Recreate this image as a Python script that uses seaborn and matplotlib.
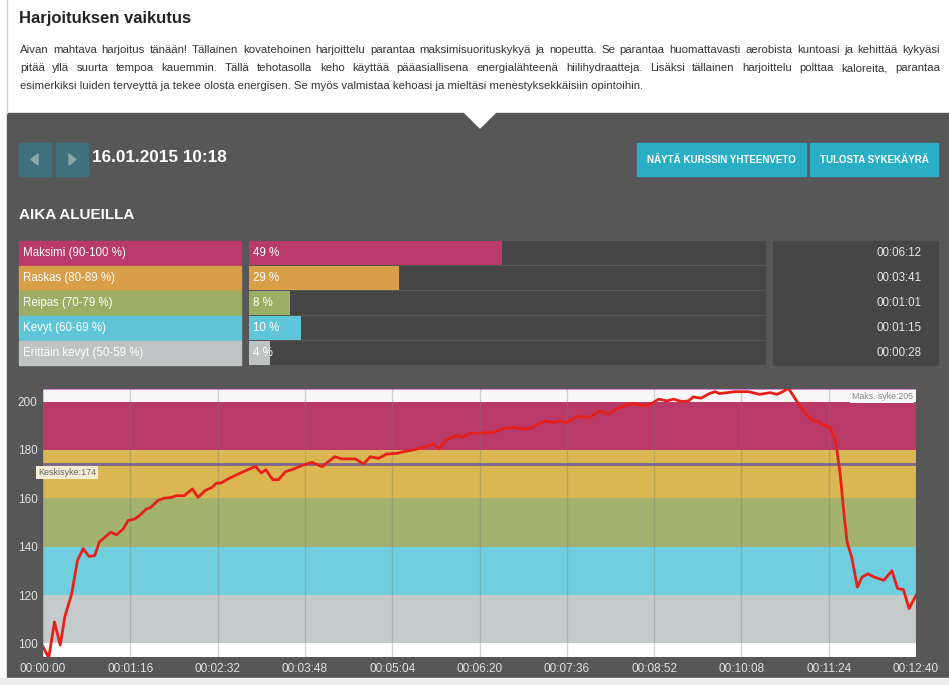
import numpy as np
import pandas as pd
import seaborn as sns
import matplotlib.pyplot as plt
from matplotlib.patches import Rectangle, Polygon
from matplotlib.ticker import FuncFormatter, MultipleLocator

# heart rate samples (seconds from start, bpm)
hr_sec = [0, 5, 10, 15, 19, 25, 30, 35, 40, 45, 49, 54, 59, 64, 70, 74, 80, 84, 90, 94,
          100, 105, 112, 116, 123, 130, 135, 141, 147, 151, 155, 161, 172, 185, 190, 194,
          200, 205, 211, 218, 225, 234, 243, 254, 260, 272, 279, 285, 292, 299, 308, 315,
          322, 331, 340, 345, 351, 360, 365, 372, 382, 392, 401, 411, 417, 424, 431, 438,
          444, 450, 456, 462, 467, 475, 485, 492, 499, 508, 515, 523, 530, 536, 543, 549,
          556, 562, 566, 573, 580, 585, 589, 602, 614, 624, 633, 639, 644, 649, 656, 663,
          670, 675, 679, 685, 690, 694, 697, 700, 704, 709, 713, 718, 724, 732, 739, 744,
          749, 754, 760]
hr_bpm = [98.6, 94.1, 108.9, 99.3, 111, 120.6, 134.3, 139.2, 136, 136.3, 141.9, 144, 146,
          144.9, 147.4, 150.8, 151.5, 152.9, 155.6, 156.3, 159.1, 160, 160.4, 161.1, 161.1,
          163.9, 160.4, 163.2, 164.5, 166.3, 166.3, 168, 170.5, 173.2, 170.5, 171.8, 167.7,
          167.7, 171, 172.1, 173.5, 174.9, 173.1, 177.2, 176.3, 176.3, 174.2, 177.2, 176.5,
          178.3, 178.6, 179.4, 180, 181, 182.4, 180.4, 184.2, 186.1, 185.2, 186.8, 187,
          187.2, 188.9, 189.3, 188.6, 188.9, 190.7, 192, 191.3, 192, 191.3, 193, 194.1,
          193.2, 196.2, 194.8, 196.9, 198.6, 199.2, 198.2, 199.2, 201, 200.3, 201, 200,
          200.3, 201.9, 201.4, 203.3, 204.1, 203.3, 204.1, 204.1, 203, 203.7, 203, 204.1,
          205.5, 200.3, 195.5, 192, 191.8, 190.3, 189.3, 183.8, 170, 154.9, 141.9, 135.7,
          123.3, 127.4, 128.8, 127.4, 126.1, 130, 122.7, 122.3, 114.4, 119.9]

zone_names = ['Maksimi (90-100 %)', 'Raskas (80-89 %)', 'Reipas (70-79 %)',
              'Kevyt (60-69 %)', 'Erittäin kevyt (50-59 %)']
zone_pct = [49, 29, 8, 10, 4]
zone_time = ['00:06:12', '00:03:41', '00:01:01', '00:01:15', '00:00:28']
zone_colors = ['#b8396a', '#d99f48', '#9cae63', '#5ec6d8', '#bfc3c3']
band_lo = [180, 160, 140, 120, 100]
band_hi = [200, 180, 160, 140, 120]
band_colors = ['#b93a69', '#dab752', '#a3b26d', '#6fcfde', '#c5cbcb']
avg_hr = 174
max_hr = 205

title = 'Harjoituksen vaikutus'
para = ['Aivan mahtava harjoitus tänään! Tällainen kovatehoinen harjoittelu parantaa maksimisuorituskykyä ja nopeutta. Se parantaa huomattavasti aerobista kuntoasi ja kehittää kykyäsi',
        'pitää yllä suurta tempoa kauemmin. Tällä tehotasolla keho käyttää pääasiallisena energialähteenä hiilihydraatteja. Lisäksi tällainen harjoittelu polttaa kaloreita, parantaa',
        'esimerkiksi luiden terveyttä ja tekee olosta energisen. Se myös valmistaa kehoasi ja mieltäsi menestyksekkäisiin opintoihin.']
date_txt = '16.01.2015 10:18'

W, H = 949, 685
plt.rcParams['font.family'] = ['Liberation Sans', 'DejaVu Sans']

fig = plt.figure(figsize=(W / 100, H / 100), dpi=100)


def box(x0, y0, x1, y1):
    return [x0 / W, 1 - y1 / H, (x1 - x0) / W, (y1 - y0) / H]


bg = fig.add_axes([0, 0, 1, 1])
bg.set_xlim(0, W)
bg.set_ylim(H, 0)
bg.axis('off')

dark = '#575757'
track = '#464646'
bg.add_patch(Rectangle((0, 0), W, H, color='white'))
bg.plot([7, 7], [0, 113], color='#d0d0d0', lw=1)
bg.add_patch(Rectangle((7, 113), W - 7, 565, color=dark))
bg.add_patch(Polygon([(464, 112), (496, 112), (480, 128)], color='white'))
bg.add_patch(Rectangle((0, 678), W, 7, color='#ececec'))

bg.text(19, 18, title, fontsize=12, fontweight='bold', color='#222222', va='center')

# justified paragraph
fig.canvas.draw()
rend = fig.canvas.get_renderer()
for i, line in enumerate(para):
    y = 53 + 18 * i
    words = line.split()
    if i == len(para) - 1:
        bg.text(20, y, line, fontsize=8.2, color='#333333', va='baseline')
        continue
    objs = [bg.text(0, y, w, fontsize=8.2, color='#333333', va='baseline')
            for w in words]
    widths = [o.get_window_extent(rend).width for o in objs]
    gap = (940 - 20 - sum(widths)) / (len(words) - 1)
    x = 20
    for o, w in zip(objs, widths):
        o.set_x(x)
        x += w + gap

# navigation + header
for x0 in (19, 56):
    bg.add_patch(Rectangle((x0, 143), 32, 33, color='#3e717b'))
bg.add_patch(Polygon([(38, 154), (38, 165), (31, 159.5)], color='#8fa5aa'))
bg.add_patch(Polygon([(69, 154), (69, 165), (76, 159.5)], color='#8fa5aa'))
bg.text(92, 157, date_txt, fontsize=12.3, fontweight='bold', color='white', va='center')

for (x0, x1), lab in zip([(637, 806), (810, 938)],
                         ['NÄYTÄ KURSSIN YHTEENVETO', 'TULOSTA SYKEKÄYRÄ']):
    bg.add_patch(Rectangle((x0, 143), x1 - x0, 33, color='#2aaec5'))
    bg.text((x0 + x1) / 2, 160, lab, fontsize=7, fontweight='bold', color='white',
            ha='center', va='center')

bg.text(19, 215, 'AIKA ALUEILLA', fontsize=11, fontweight='bold', color='white',
        va='center')

# zone rows: label boxes and time boxes
for i, (name, col, t) in enumerate(zip(zone_names, zone_colors, zone_time)):
    y0 = 241 + 25 * i
    bg.add_patch(Rectangle((19, y0), 222, 24, color=col))
    bg.text(23, y0 + 12, name, fontsize=8.3, color='white', va='center')
    bg.add_patch(Rectangle((773, y0), 165, 24, color=track))
    bg.text(922, y0 + 12, t, fontsize=8.3, color='#e6e6e6', va='center', ha='right')

# percentage bars
zdf = pd.DataFrame({'zone': zone_names, 'pct': zone_pct, 'full': [100] * 5})
axz = fig.add_axes(box(249, 241, 766, 366))
sns.barplot(data=zdf, x='full', y='zone', color=track, width=0.96, saturation=1,
            ax=axz)
sns.barplot(data=zdf, x='pct', y='zone', hue='zone', palette=zone_colors, width=0.96,
            saturation=1, legend=False, ax=axz)
axz.set_xlim(0, 100)
axz.axis('off')
for i, p in enumerate(zone_pct):
    axz.text(0.8, i, f'{p} %', fontsize=8.3, color='white', va='center')

# heart rate chart
ax = fig.add_axes(box(43, 389, 916, 657))
ax.set_facecolor('#f7f7f7')
for lo, hi, c in zip(band_lo, band_hi, band_colors):
    ax.axhspan(lo, hi, color=c, lw=0, zorder=0)
ax.axhspan(94, 100, color='white', lw=0, zorder=0)
for t in range(0, 761, 76):
    ax.axvline(t, color='#777777', alpha=0.3, lw=1, zorder=1)
ax.axhline(avg_hr, color='#7a6790', lw=2, zorder=2)
ax.axhline(max_hr, color='#cf6ccb', lw=1.2, zorder=2)

hr = pd.DataFrame({'sec': hr_sec, 'bpm': hr_bpm})
sns.lineplot(data=hr, x='sec', y='bpm', color='#e8201a', lw=2, ax=ax, zorder=3)

ax.set_xlim(0, 760)
ax.xaxis.set_major_locator(MultipleLocator(76))
ax.yaxis.set_major_locator(MultipleLocator(20))
ax.set_ylim(94.4, 205.2)
ax.xaxis.set_major_formatter(FuncFormatter(
    lambda v, p: f'{int(v) // 3600:02d}:{int(v) % 3600 // 60:02d}:{int(v) % 60:02d}'))
ax.tick_params(colors='#e2e2e2', length=0, labelsize=8.5, pad=4)
ax.set_xlabel('')
ax.set_ylabel('')
for s in ax.spines.values():
    s.set_visible(False)

ax.text(-4.5, avg_hr - 1.4, f'Keskisyke:{avg_hr}', fontsize=6.5, color='#666666', va='top',
        bbox=dict(facecolor='#f3ecd6', edgecolor='none', pad=1.5), zorder=4)
ax.text(757, max_hr - 1.2, f'Maks. syke:{max_hr}', fontsize=6.3, color='#888888', va='top',
        ha='right', bbox=dict(facecolor='#f7f7f7', edgecolor='none', pad=1.2), zorder=4)

fig.savefig('out.png', dpi=100)
